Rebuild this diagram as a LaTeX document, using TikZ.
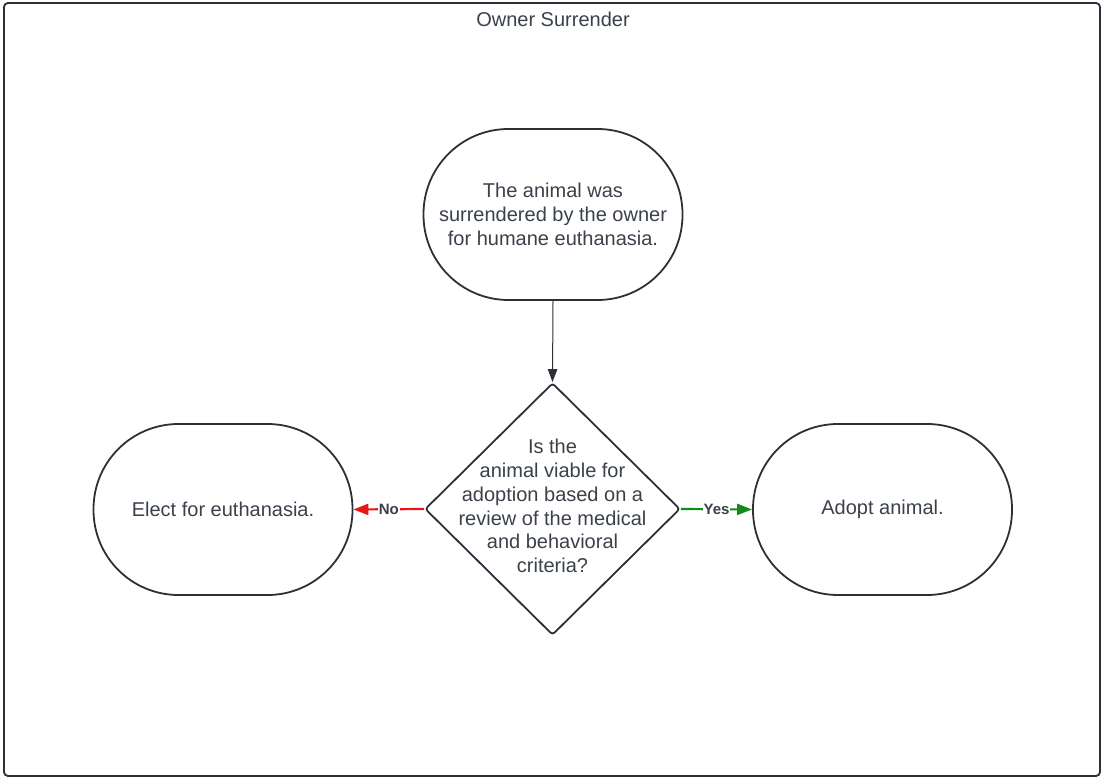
\documentclass[tikz,border=0pt]{standalone}
\usepackage{fontspec}
\setmainfont{Liberation Sans}
\usetikzlibrary{shapes.geometric,arrows.meta}
\definecolor{ink}{RGB}{58,65,74}
\definecolor{edge}{RGB}{44,48,56}
\definecolor{noline}{RGB}{232,22,22}
\definecolor{yesline}{RGB}{18,140,22}
\tikzset{
  terminal/.style={draw=edge, line width=1.8pt, rounded corners=85pt,
    minimum width=259pt, minimum height=171pt, inner sep=0pt,
    align=center, text=ink, font=\fontsize{20}{24}\selectfont},
  decision/.style={draw=edge, line width=1.8pt, diamond, rounded corners=3pt,
    minimum width=255pt, minimum height=252pt, inner sep=0pt},
  bodytext/.style={align=center, text=ink, font=\fontsize{20}{23.7}\selectfont},
  flow/.style={draw=edge, line width=1pt, -{Triangle[length=13pt,width=9.5pt]}},
  branch/.style={line width=2.2pt, -{Triangle[length=15pt,width=11pt]}},
  choice/.style={fill=white, text=ink, inner sep=1pt,
    font=\fontsize{15}{17}\selectfont\bfseries},
}
\begin{document}
\begin{tikzpicture}[x=1pt,y=-1pt]
  \useasboundingbox (0,0) rectangle (1102,778);
  % outer frame and title
  \draw[draw=edge, line width=1.8pt, rounded corners=4pt] (4,3) rectangle (1100,776);
  \node[bodytext] (title) at (553,19) {Owner Surrender};

  % process steps
  \node[terminal] (start) at (553,214.5)
    {The animal was\\surrendered by the owner\\for humane euthanasia.};
  \node[decision] (check) at (552.5,509) {};
  \node[bodytext] (checktext) at ([yshift=3pt]check.center)
    {Is the\\animal viable for\\adoption based on a\\review of the medical\\and behavioral\\criteria?};
  \node[terminal] (euth) at (223,509.5) {Elect for euthanasia.};
  \node[terminal] (adopt) at (882.5,509.5) {Adopt animal.};

  % connectors
  \draw[flow] (start.south) -- (check.north);
  \draw[branch, draw=noline, fill=noline] (check.west) -- (euth.east)
    node[choice, pos=0.5] (nolabel) {No};
  \draw[branch, draw=yesline, fill=yesline] (check.east) -- (adopt.west)
    node[choice, pos=0.5] (yeslabel) {Yes};
\end{tikzpicture}
\end{document}
